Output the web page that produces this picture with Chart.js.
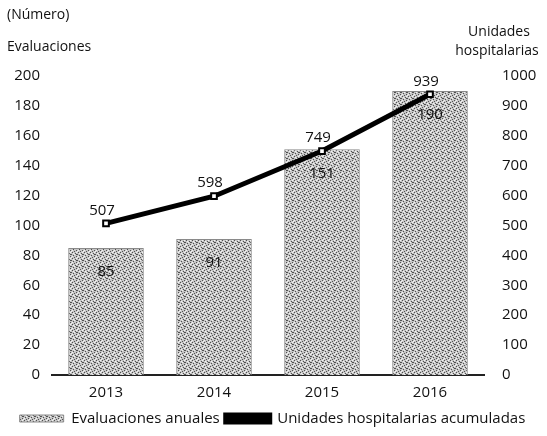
<!DOCTYPE html>
<html>
<head>
<meta charset="utf-8">
<script src="https://cdn.jsdelivr.net/npm/chart.js@4"></script>
<style>
  html, body { margin: 0; padding: 0; background: #fff; }
  #wrap { width: 547px; height: 436px; }
</style>
</head>
<body>
<div id="wrap"><canvas id="chart" width="547" height="436"></canvas></div>
<script>
const years = ["2013", "2014", "2015", "2016"];
const evaluaciones = [85, 91, 151, 190];
const unidades = [507, 598, 749, 939];
const leftTicks = [0, 20, 40, 60, 80, 100, 120, 140, 160, 180, 200];
const rightTicks = [0, 100, 200, 300, 400, 500, 600, 700, 800, 900, 1000];

const FONT = "'Open Sans', 'DejaVu Sans', sans-serif";

// stippled grey fill, like the scanned bars
function makeStipple() {
  const c = document.createElement("canvas");
  c.width = 6;
  c.height = 6;
  const g = c.getContext("2d");
  g.fillStyle = "#c6c6c6";
  g.fillRect(0, 0, 6, 6);
  g.fillStyle = "#505050";
  [[0, 0], [3, 1], [1, 3], [4, 4], [5, 2], [2, 5], [4, 2]].forEach((p) => g.fillRect(p[0], p[1], 1, 1));
  g.fillStyle = "#f2f2f2";
  [[1, 1], [4, 0], [2, 2], [5, 5], [0, 4]].forEach((p) => g.fillRect(p[0], p[1], 1, 1));
  return g.createPattern(c, "repeat");
}

const ctx = document.getElementById("chart").getContext("2d");
const stipple = makeStipple();

const labelsPlugin = {
  id: "labelsPlugin",
  afterDatasetsDraw(chart) {
    const c = chart.ctx;
    c.save();
    c.fillStyle = "#111";
    c.font = "15px " + FONT;
    c.textAlign = "center";
    c.textBaseline = "middle";
    chart.getDatasetMeta(0).data.forEach((bar, i) => {
      c.fillText(evaluaciones[i], bar.x, bar.y + 24);
    });
    chart.getDatasetMeta(1).data.forEach((pt, i) => {
      c.fillText(unidades[i], pt.x - 4, pt.y - 13);
    });
    c.restore();
  },
  afterDraw(chart) {
    const c = chart.ctx;
    c.save();
    c.fillStyle = "#111";
    c.font = "14px " + FONT;
    c.textBaseline = "middle";
    c.textAlign = "left";
    c.fillText("(Número)", 7, 15);
    c.fillText("Evaluaciones", 7, 47);
    c.textAlign = "center";
    c.fillText("Unidades", 499, 32);
    c.fillText("hospitalarias", 497, 51);
    c.restore();
  },
};

new Chart(ctx, {
  data: {
    labels: years,
    datasets: [
      {
        type: "bar",
        label: "Evaluaciones anuales",
        data: evaluaciones,
        yAxisID: "y",
        backgroundColor: stipple,
        borderColor: "#8a8a8a",
        borderWidth: 1,
        categoryPercentage: 0.7,
        barPercentage: 1,
        order: 1,
      },
      {
        type: "line",
        label: "Unidades hospitalarias acumuladas",
        data: unidades,
        yAxisID: "y1",
        borderColor: "#000",
        backgroundColor: "#000",
        borderWidth: 5,
        pointStyle: "rect",
        pointRadius: 4,
        pointBackgroundColor: "#fff",
        pointBorderColor: "#000",
        pointBorderWidth: 2,
        tension: 0,
        order: 0,
      },
    ],
  },
  options: {
    responsive: false,
    animation: false,
    layout: { padding: { top: 76, left: 0, right: 2, bottom: 0 } },
    plugins: {
      tooltip: { enabled: false },
      legend: {
        position: "bottom",
        labels: {
          sort: (a, b) => a.datasetIndex - b.datasetIndex,
          boxWidth: 44,
          boxHeight: 7,
          padding: 6,
          color: "#111",
          font: { family: FONT, size: 15 },
        },
      },
    },
    scales: {
      x: {
        grid: { display: false, drawTicks: false },
        border: { display: true, color: "#222", width: 2 },
        ticks: { color: "#111", padding: 9, font: { family: FONT, size: 15 } },
        afterFit: (scale) => { scale.height = 30; },
      },
      y: {
        position: "left",
        min: 0,
        max: 200,
        afterBuildTicks: (scale) => { scale.ticks = leftTicks.map((v) => ({ value: v })); },
        grid: { display: false, drawTicks: false },
        border: { display: false },
        ticks: { color: "#111", padding: 12, font: { family: FONT, size: 15 }, callback: (v) => String(v) },
        afterFit: (scale) => { scale.width = 52; },
      },
      y1: {
        position: "right",
        min: 0,
        max: 1000,
        afterBuildTicks: (scale) => { scale.ticks = rightTicks.map((v) => ({ value: v })); },
        grid: { display: false, drawTicks: false },
        border: { display: false },
        ticks: { color: "#111", padding: 18, font: { family: FONT, size: 15 }, callback: (v) => String(v) },
        afterFit: (scale) => { scale.width = 61; },
      },
    },
  },
  plugins: [labelsPlugin],
});
</script>
</body>
</html>
